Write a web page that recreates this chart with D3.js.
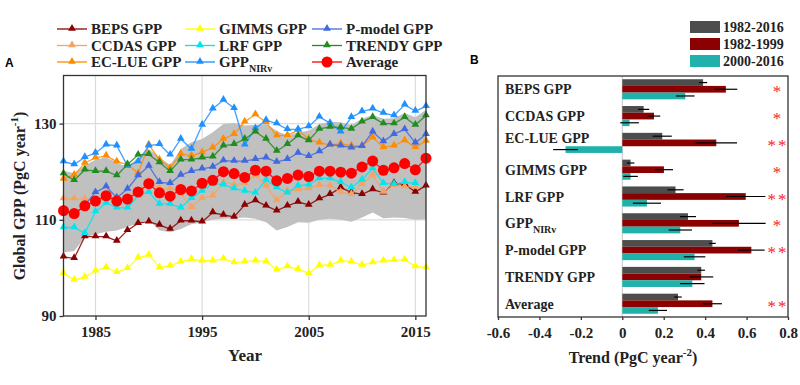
<!DOCTYPE html>
<html>
<head>
<meta charset="utf-8">
<script src="https://cdn.jsdelivr.net/npm/d3@7"></script>
<style>
  body { margin: 0; background: #fff; }
  text { font-family: "Liberation Serif", "Times New Roman", serif; font-weight: bold; }
</style>
</head>
<body>
<div id="canvas"></div>
<script>
const canvWidth = 800, canvHeight = 385;

// ---- panel A data ----
const years = d3.range(1982, 2017);
const beps = [102.3,102.0,106.5,106.5,106.5,105.6,107.8,109.3,109.6,108.9,108.1,109.8,109.8,109.6,111.5,111.0,110.6,113.1,114.0,112.9,111.9,112.9,113.7,113.1,114.4,115.3,116.7,115.7,115.3,116.3,115.6,117.6,117.4,115.8,117.1];
const ccdas = [114.4,114.4,114.3,113.3,114.6,113.8,114.6,116.0,118.0,116.5,116.5,115.4,112.6,114.5,115.0,117.8,117.3,117.6,119.2,117.1,114.0,116.0,116.3,116.5,117.2,117.1,115.8,115.3,117.4,119.3,115.8,117.2,116.9,116.8];
const eclue = [118.5,119.3,121.8,122.9,123.3,122.1,121.5,119.7,125.6,122.5,120.8,123.7,123.3,124.0,125.0,126.8,127.8,130.4,131.9,130.3,127.5,127.6,128.6,126.8,126.0,125.6,125.8,125.4,125.4,127.1,125.1,125.4,126.5,125.1,126.4];
const gimms = [98.9,97.5,98.1,99.4,100.1,99.1,99.9,102.1,102.7,100.1,100.4,101.3,101.8,101.5,101.5,101.9,101.1,101.3,101.5,101.3,99.6,100.3,99.7,98.9,100.5,100.6,101.5,101.3,100.6,101.1,101.5,101.6,101.7,100.3,100.1];
const lrf = [108.4,108.4,107.2,111.7,113.5,112.5,112.5,115.0,115.8,113.3,113.3,112.5,114.5,116.0,117.5,117.3,116.5,116.0,115.6,118.3,116.7,115.6,117.1,117.3,118.6,118.6,117.8,116.7,118.3,120.7,117.6,117.4,117.8,117.6];
const nirv = [122.1,121.5,123.0,123.9,125.6,125.4,121.2,122.1,125.4,125.7,123.5,126.8,124.7,129.7,133.1,134.9,133.2,125.6,129.0,130.7,130.0,128.8,128.8,129.4,131.4,130.1,128.3,131.3,132.5,133.1,132.2,131.7,133.9,132.6,133.6];
const pmodel = [112.3,110.8,113.1,115.7,116.9,114.6,116.4,119.2,121.2,117.8,117.6,119.3,120.1,120.6,121.0,122.3,122.2,122.2,122.6,122.9,122.0,122.6,123.9,123.2,124.2,125.6,125.4,125.0,125.3,128.3,126.3,127.8,128.8,126.0,127.8];
const trendy = [119.6,118.2,120.4,120.1,120.1,119.2,121.5,123.5,123.6,121.9,120.1,122.5,122.5,122.9,123.1,125.4,125.7,126.8,128.3,126.8,124.3,125.7,127.5,126.5,128.9,129.3,129.2,128.9,130.4,131.3,130.0,130.0,131.3,129.7,131.7];
const average = [111.9,111.3,112.9,113.9,115.0,113.9,114.3,115.8,117.5,115.6,114.9,116.3,116.0,117.6,118.2,120.0,119.6,118.8,120.3,120.1,118.1,118.6,119.3,119.0,120.1,120.1,119.9,119.7,121.0,122.2,120.3,120.8,121.7,120.4,122.8];
const bandLow = [103.2,103.5,106.3,107.0,107.5,107.8,108.5,109.3,110.0,107.8,107.4,108.1,109.1,109.5,110.0,110.2,110.3,110.5,110.2,109.5,107.8,108.5,109.5,109.4,110.0,110.2,110.0,109.6,110.5,111.5,110.3,110.5,110.4,110.0,110.1];
const bandHigh = [120.2,119.7,121.3,122.5,123.0,121.9,120.9,123.0,124.7,123.0,121.4,124.7,126.1,126.8,128.2,129.9,130.1,129.6,129.7,129.9,128.5,127.5,128.2,128.5,129.9,130.4,130.3,129.7,131.0,131.8,131.0,131.1,132.2,131.3,132.9];

const seriesNames = ["BEPS GPP", "CCDAS GPP", "EC-LUE GPP", "GIMMS GPP", "LRF GPP", "GPP_NIRv", "P-model GPP", "TRENDY GPP", "Average"];
const seriesValues = [beps, ccdas, eclue, gimms, lrf, nirv, pmodel, trendy, average];
const seriesColors = ["#8b0000", "#f4a460", "#ff8c00", "#ffff00", "#00e5ee", "#1e90ff", "#4169e1", "#228b22", "#ff0000"];
const yTicksA = [90, 110, 130];
const xTicksA = [1985, 1995, 2005, 2015];

// ---- panel B data ----
const categories = ["BEPS GPP", "CCDAS GPP", "EC-LUE GPP", "GIMMS GPP", "LRF GPP", "GPP_NIRv", "P-model GPP", "TRENDY GPP", "Average"];
const periods = ["1982-2016", "1982-1999", "2000-2016"];
const periodColors = ["#4d4d4d", "#8b0000", "#20b2aa"];
const trendAll = [0.39, 0.103, 0.193, 0.04, 0.257, 0.317, 0.435, 0.381, 0.269];
const trendEarly = [0.50, 0.153, 0.454, 0.201, 0.596, 0.563, 0.623, 0.381, 0.435];
const trendLate = [0.304, 0.035, -0.274, 0.04, 0.119, 0.28, 0.349, 0.338, 0.172];
const errAll = [0.02, 0.027, 0.046, 0.018, 0.039, 0.039, 0.016, 0.018, 0.018];
const errEarly = [0.055, 0.03, 0.1, 0.044, 0.095, 0.129, 0.064, 0.058, 0.046];
const errLate = [0.045, 0.045, 0.06, 0.035, 0.068, 0.056, 0.052, 0.059, 0.044];
const signif = ["*", "*", "**", "*", "**", "*", "**", "", "**"];
const xTicksB = [-0.6, -0.4, -0.2, 0, 0.2, 0.4, 0.6, 0.8];

const svg = d3.select("#canvas").append("svg")
    .attr("width", canvWidth)
    .attr("height", canvHeight);

// name with a subscript part after "_"
function labelText(sel, name, subSize) {
    var parts = name.split("_");
    sel.append("tspan").text(parts[0]);
    if (parts[1]) {
        sel.append("tspan").attr("dy", 5).attr("font-size", subSize).text(parts[1]);
    }
}

// ================= panel A =================
const xA = d3.scaleLinear().domain([1982, 2016]).range([63.5, 426]);
const yA = d3.scaleLinear().domain([90, 140]).range([316, 75.5]);

const gA = svg.append("g");

// grid
gA.selectAll(".vgrid").data(xTicksA).enter().append("line")
    .attr("x1", d => xA(d)).attr("x2", d => xA(d))
    .attr("y1", yA(140)).attr("y2", yA(90))
    .attr("stroke", "#dcdcdc").attr("stroke-width", 1.2);
gA.selectAll(".hgrid").data(yTicksA.slice(1)).enter().append("line")
    .attr("x1", xA(1982)).attr("x2", xA(2016))
    .attr("y1", d => yA(d)).attr("y2", d => yA(d))
    .attr("stroke", "#dcdcdc").attr("stroke-width", 1.2);

// spread band
const band = d3.area()
    .x((d, i) => xA(years[i]))
    .y0((d, i) => yA(bandLow[i]))
    .y1((d, i) => yA(bandHigh[i]));
gA.append("path").datum(bandLow).attr("d", band).attr("fill", "#c0c0c0");

const line = d3.line()
    .x((d, i) => xA(years[i]))
    .y(d => yA(d));
const tri = d3.symbol().type(d3.symbolTriangle).size(26);

seriesValues.forEach(function (vals, k) {
    var col = seriesColors[k];
    gA.append("path").datum(vals).attr("d", line)
        .attr("fill", "none").attr("stroke", col)
        .attr("stroke-width", 1.3).attr("stroke-opacity", 0.85);
    var pts = gA.selectAll(".p" + k).data(vals).enter();
    if (k === seriesValues.length - 1) {
        pts.append("circle")
            .attr("cx", (d, i) => xA(years[i])).attr("cy", d => yA(d))
            .attr("r", 5.5).attr("fill", col);
    } else {
        pts.append("path").attr("d", tri)
            .attr("transform", (d, i) => "translate(" + xA(years[i]) + "," + (yA(d) - 0.5) + ")")
            .attr("fill", col);
    }
});

// frame + axes
gA.append("rect").attr("x", 63.5).attr("y", 75.5).attr("width", 426 - 63.5).attr("height", 316 - 75.5)
    .attr("fill", "none").attr("stroke", "#333").attr("stroke-width", 1.3);

const axA_y = gA.append("g").attr("transform", "translate(63.5,0)")
    .call(d3.axisLeft(yA).tickValues(yTicksA).tickSize(4).tickPadding(3));
const axA_x = gA.append("g").attr("transform", "translate(0,316)")
    .call(d3.axisBottom(xA).tickValues(xTicksA).tickFormat(d3.format("d")).tickSize(4).tickPadding(6));
[axA_y, axA_x].forEach(function (ax) {
    ax.select(".domain").remove();
    ax.selectAll("line").attr("stroke", "#333").attr("stroke-width", 1.3);
    ax.selectAll("text").attr("font-size", 15).attr("fill", "#222")
        .attr("font-family", "Liberation Serif").attr("font-weight", "bold");
});

const yLab = gA.append("text")
    .attr("transform", "translate(25,196) rotate(-90)")
    .attr("text-anchor", "middle").attr("font-size", 16).attr("fill", "#222");
yLab.append("tspan").text("Global GPP (PgC year");
yLab.append("tspan").attr("dy", -7).attr("font-size", 11).text("-1");
yLab.append("tspan").attr("dy", 7).text(")");

gA.append("text").attr("x", 245).attr("y", 361).attr("text-anchor", "middle")
    .attr("font-size", 17).attr("fill", "#222").text("Year");

svg.append("text").attr("x", 5).attr("y", 67).attr("font-size", 12)
    .style("font-family", "Liberation Sans, Arial, sans-serif").text("A");

// legend A
const legCols = [57, 185, 312];
seriesNames.forEach(function (name, k) {
    var col = Math.floor(k / 3), row = k % 3;
    var lx = legCols[col], ly = 29 + row * 16.5;
    var g = svg.append("g").attr("transform", "translate(" + lx + "," + ly + ")");
    g.append("line").attr("x1", 0).attr("x2", 30).attr("y1", 0).attr("y2", 0)
        .attr("stroke", seriesColors[k]).attr("stroke-width", 1.3);
    if (k === seriesNames.length - 1) {
        g.append("circle").attr("cx", 15).attr("cy", 0).attr("r", 5.5).attr("fill", seriesColors[k]);
    } else {
        g.append("path").attr("d", tri).attr("transform", "translate(15,-0.5)").attr("fill", seriesColors[k]);
    }
    var t = g.append("text").attr("x", 34).attr("y", 5).attr("font-size", 15).attr("fill", "#222");
    labelText(t, name, 10);
});

// ================= panel B =================
const xB = d3.scaleLinear().domain([-0.6, 0.8]).range([498, 788]);
const yB = d3.scaleBand().domain(categories).range([76, 317]).paddingInner(0.25).paddingOuter(0.12);
const yInner = d3.scaleBand().domain(periods).range([0, yB.bandwidth()]);

const gB = svg.append("g");

gB.append("line").attr("x1", xB(0)).attr("x2", xB(0)).attr("y1", 76).attr("y2", 317)
    .attr("stroke", "#cfcfcf").attr("stroke-width", 1.2);

const trends = [trendAll, trendEarly, trendLate];
const errs = [errAll, errEarly, errLate];

periods.forEach(function (p, j) {
    var rows = categories.map((c, i) => ({cat: c, v: trends[j][i], e: errs[j][i]}));
    gB.selectAll(".bar" + j).data(rows).enter().append("rect")
        .attr("x", d => xB(Math.min(0, d.v)))
        .attr("width", d => Math.abs(xB(d.v) - xB(0)))
        .attr("y", d => yB(d.cat) + yInner(p))
        .attr("height", yInner.bandwidth())
        .attr("fill", periodColors[j]);
    gB.selectAll(".err" + j).data(rows).enter().append("line")
        .attr("x1", d => xB(d.v - d.e)).attr("x2", d => xB(d.v + d.e))
        .attr("y1", d => yB(d.cat) + yInner(p) + yInner.bandwidth() / 2)
        .attr("y2", d => yB(d.cat) + yInner(p) + yInner.bandwidth() / 2)
        .attr("stroke", "#000").attr("stroke-width", 1.2);
});

gB.selectAll(".star").data(categories).enter().append("text")
    .attr("x", 778).attr("y", (d, i) => yB(d) + yB.bandwidth() / 2 + 8)
    .attr("text-anchor", "middle").attr("font-size", 17).attr("fill", "#ff2020")
    .style("font-weight", "normal").style("letter-spacing", "2px")
    .text((d, i) => signif[i]);

gB.selectAll(".cat").data(categories).enter().append("text")
    .attr("x", 505)
    .attr("y", (d, i) => yB(d) + yB.bandwidth() / 2 + (i === 2 ? 0 : 5))
    .attr("font-size", 14).attr("fill", "#222")
    .each(function (d) { labelText(d3.select(this), d, 10); });

gB.append("rect").attr("x", 498).attr("y", 76).attr("width", 290).attr("height", 241)
    .attr("fill", "none").attr("stroke", "#333").attr("stroke-width", 1.3);

const axB = gB.append("g").attr("transform", "translate(0,317)")
    .call(d3.axisBottom(xB).tickValues(xTicksB)
        .tickFormat(d => d === 0 ? "0" : String(+d.toFixed(1))).tickSize(3).tickPadding(7));
axB.select(".domain").remove();
axB.selectAll("line").attr("stroke", "#333").attr("stroke-width", 1.3);
axB.selectAll("text").attr("font-size", 15).attr("fill", "#222")
    .attr("font-family", "Liberation Serif").attr("font-weight", "bold");

const xLabB = gB.append("text").attr("x", 633).attr("y", 363).attr("text-anchor", "middle")
    .attr("font-size", 16).attr("fill", "#222");
xLabB.append("tspan").text("Trend (PgC year");
xLabB.append("tspan").attr("dy", -7).attr("font-size", 11).text("-2");
xLabB.append("tspan").attr("dy", 7).text(")");

svg.append("text").attr("x", 470).attr("y", 64).attr("font-size", 12)
    .style("font-family", "Liberation Sans, Arial, sans-serif").text("B");

// legend B
periods.forEach(function (p, j) {
    var ly = 21 + j * 17;
    svg.append("rect").attr("x", 690).attr("y", ly).attr("width", 30).attr("height", 12)
        .attr("fill", periodColors[j]);
    svg.append("text").attr("x", 723).attr("y", ly + 11).attr("font-size", 14)
        .attr("fill", "#222").text(p);
});
</script>
</body>
</html>
